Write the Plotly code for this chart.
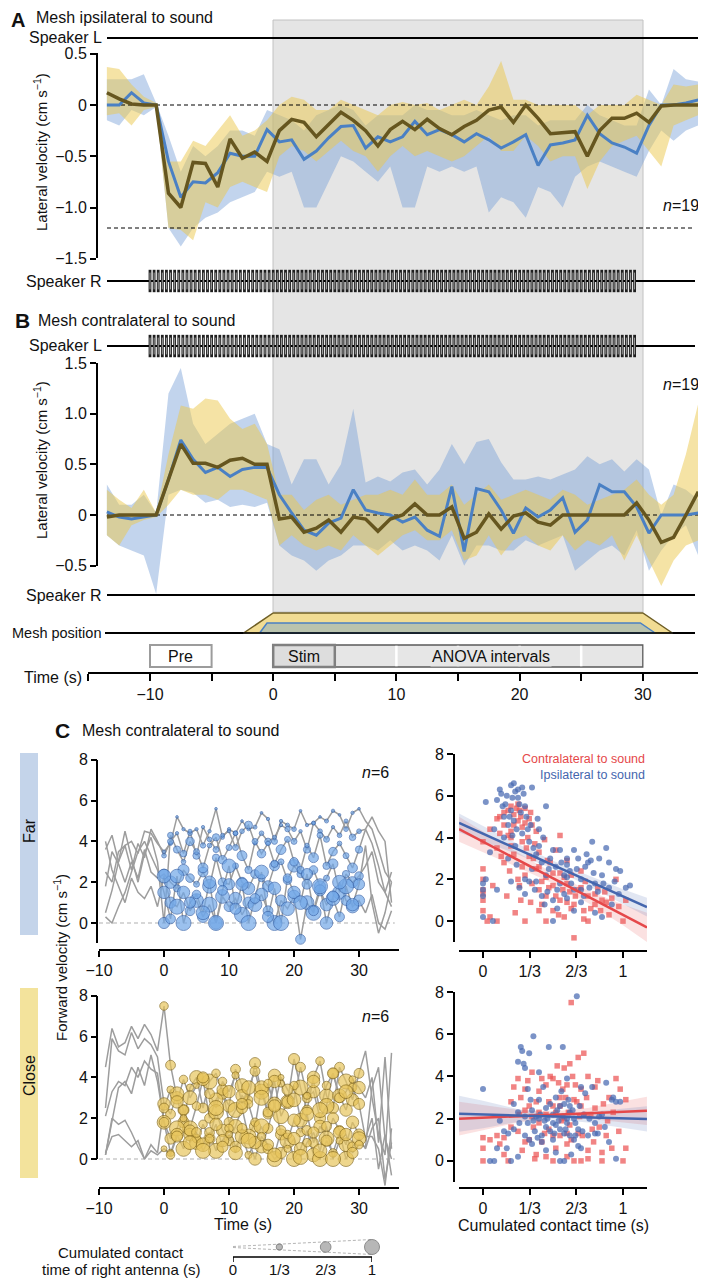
import plotly.graph_objects as go

# The page body has an 8 px margin, so the figure is drawn 8 px in from the
# window's top-left corner; all positions below are window pixels.
OFF = 8
W, H = 706 - OFF, 1278 - OFF
FONT = "Liberation Sans, Arial, Helvetica, sans-serif"


def PX(px):
    return (px - OFF) / W


def PY(py):
    return 1 - (py - OFF) / H


# ------------------------------------------------------------------ data A/B
t_ab = [i + 0.5 for i in range(-14, 35)]  # 1-s bins, -13.5 .. 34.5

ipsi_close_mean = [0.12, 0.06, 0.01, 0.0, 0.0, -0.86, -1.0, -0.56, -0.57, -0.80,
                   -0.33, -0.52, -0.46, -0.55, -0.25, -0.14, -0.17, -0.31, -0.19, -0.07,
                   -0.15, -0.25, -0.40, -0.24, -0.16, -0.24, -0.14, -0.23, -0.29, -0.21,
                   -0.15, -0.05, -0.02, -0.17, 0.0, -0.13, -0.28, -0.27, -0.26, -0.50,
                   -0.25, -0.13, -0.13, -0.08, -0.17, -0.01, 0.0, 0.0, 0.0]
ipsi_close_hi = [0.37, 0.35, 0.2, 0.08, 0.02, -0.55, -0.55, -0.35, -0.4, -0.25,
                 -0.1, -0.3, -0.25, -0.15, 0.0, 0.08, 0.05, -0.05, -0.05, 0.05,
                 0.0, -0.05, -0.1, 0.0, 0.03, 0.0, 0.02, -0.05, 0.0, 0.05,
                 0.0, 0.18, 0.43, 0.05, 0.05, 0.0, 0.0, 0.0, 0.0, -0.1,
                 0.0, 0.0, 0.0, 0.1, 0.05, 0.0, 0.2, 0.18, 0.2]
ipsi_close_lo = [-0.1, -0.08, -0.2, -0.05, -0.02, -1.2, -1.22, -1.32, -0.95, -1.0,
                 -0.8, -0.75, -0.8, -0.85, -0.5, -0.4, -0.45, -0.55, -0.45, -0.35,
                 -0.45, -0.5, -0.65, -0.5, -0.4, -0.5, -0.45, -0.5, -0.55, -0.5,
                 -0.4, -0.3, -0.45, -0.45, -0.3, -0.4, -0.55, -0.5, -0.5, -0.82,
                 -0.55, -0.4, -0.35, -0.3, -0.45, -0.6, -0.2, -0.15, -0.1]
ipsi_far_mean = [0.0, 0.0, 0.12, 0.02, 0.0, -0.55, -0.90, -0.75, -0.76, -0.66,
                 -0.47, -0.50, -0.50, -0.24, -0.36, -0.34, -0.53, -0.45, -0.32, -0.21,
                 -0.20, -0.42, -0.31, -0.36, -0.31, -0.16, -0.29, -0.24, -0.29, -0.36,
                 -0.28, -0.34, -0.42, -0.36, -0.29, -0.59, -0.39, -0.37, -0.34, -0.10,
                 -0.28, -0.37, -0.41, -0.47, -0.20, 0.0, 0.0, 0.02, 0.05]
ipsi_far_hi = [0.25, 0.25, 0.25, 0.3, 0.02, -0.3, -0.65, -0.4, -0.5, -0.4,
               -0.25, -0.25, -0.3, -0.05, -0.1, -0.15, -0.25, -0.1, -0.05, 0.0,
               -0.05, -0.2, -0.1, -0.1, -0.1, 0.0, -0.05, -0.05, -0.1, -0.1,
               -0.05, -0.1, -0.15, -0.1, -0.1, -0.2, -0.15, -0.15, -0.15, 0.0,
               -0.1, -0.15, -0.2, -0.2, 0.15, 0.0, 0.35, 0.25, 0.23]
ipsi_far_lo = [-0.15, -0.2, -0.05, -0.1, -0.02, -1.2, -1.38, -1.2, -1.1, -1.05,
               -0.95, -0.9, -0.85, -0.65, -0.7, -0.65, -1.0, -1.0, -0.75, -0.5,
               -0.55, -0.65, -0.75, -0.6, -1.0, -1.0, -0.6, -0.65, -0.6, -0.65,
               -0.6, -1.05, -0.9, -0.95, -1.1, -0.8, -0.85, -1.0, -0.7, -0.6,
               -0.55, -0.6, -0.65, -0.7, -0.45, -0.25, -0.35, -0.25, -0.2]

contra_close_mean = [-0.02, 0.0, 0.0, 0.0, 0.0, 0.35, 0.70, 0.51, 0.51, 0.47,
                     0.54, 0.56, 0.50, 0.50, -0.04, -0.02, -0.17, -0.13, -0.05, -0.17,
                     -0.02, -0.04, -0.16, -0.04, 0.0, 0.11, 0.0, 0.0, 0.08, -0.23,
                     -0.17, 0.01, -0.14, -0.01, 0.02, -0.07, -0.10, 0.0, 0.0, 0.0,
                     0.0, 0.0, 0.0, 0.12, -0.05, -0.27, -0.22, 0.0, 0.23]
contra_close_hi = [0.25, 0.15, 0.07, 0.25, 0.02, 0.6, 1.08, 1.05, 1.15, 1.13,
                   0.95, 0.85, 0.9, 0.7, 0.2, 0.2, 0.05, 0.15, 0.2, 0.1,
                   0.15, 0.2, 0.2, 0.25, 0.2, 0.35, 0.2, 0.2, 0.3, 0.1,
                   0.2, 0.3, 0.15, 0.2, 0.25, 0.2, 0.15, 0.25, 0.2, 0.1,
                   0.15, 0.2, 0.25, 0.35, 0.2, 0.1, 0.2, 0.6, 1.1]
contra_close_lo = [-0.2, -0.3, -0.1, -0.05, -0.02, 0.1, 0.25, 0.2, 0.2, 0.15,
                   0.25, 0.25, 0.2, 0.15, -0.3, -0.2, -0.3, -0.35, -0.3, -0.35,
                   -0.2, -0.3, -0.4, -0.3, -0.2, -0.15, -0.25, -0.25, -0.15, -0.45,
                   -0.4, -0.2, -0.4, -0.25, -0.2, -0.3, -0.35, -0.2, -0.35, -0.25,
                   -0.3, -0.2, -0.45, -0.2, -0.45, -0.7, -0.45, -0.3, -0.25]
contra_far_mean = [0.03, -0.02, -0.04, -0.02, 0.0, 0.35, 0.74, 0.55, 0.42, 0.47,
                   0.38, 0.45, 0.47, 0.47, 0.20, 0.02, -0.15, -0.20, -0.08, -0.03,
                   0.25, 0.05, 0.02, 0.0, -0.07, -0.02, -0.15, -0.21, 0.28, -0.36,
                   0.26, 0.23, 0.05, -0.18, 0.07, -0.02, 0.05, 0.17, -0.17, -0.05,
                   0.30, 0.23, 0.23, 0.08, -0.18, 0.0, 0.0, 0.0, 0.02]
contra_far_hi = [0.3, 0.1, 0.1, 0.2, 0.02, 1.2, 1.45, 0.9, 0.7, 0.8,
                 0.9, 0.95, 1.0, 0.7, 0.65, 0.3, 0.55, 0.55, 0.3, 0.5,
                 1.05, 0.32, 0.38, 0.33, 0.42, 0.45, 0.3, 0.45, 0.7, 0.5,
                 0.72, 0.75, 0.52, 0.35, 0.35, 0.38, 0.35, 0.4, 0.45, 0.58,
                 0.5, 0.55, 0.43, 0.55, 0.45, 0.0, 0.3, 0.25, 0.15]
contra_far_lo = [-0.2, -0.3, -0.35, -0.4, -0.78, 0.2, 0.25, 0.22, 0.12, 0.15,
                 0.08, 0.1, 0.08, 0.12, -0.3, -0.4, -0.45, -0.55, -0.45, -0.4,
                 -0.3, -0.3, -0.35, -0.25, -0.35, -0.3, -0.35, -0.45, -0.2, -0.5,
                 -0.3, -0.3, -0.35, -0.35, -0.25, -0.3, -0.25, -0.2, -0.55, -0.45,
                 -0.35, -0.3, -0.4, -0.15, -0.55, -0.35, -0.2, -0.1, -0.4]

# stimulus schematic (s)
pulse_start, pulse_end, pulse_rate = -10.0, 29.9, 3.0
mesh_close_x = [-2.4, 0.0, 30.0, 32.4]
mesh_far_x = [-1.1, -0.5, 29.8, 31.0]
pre_interval = [-10, -5]
stim_interval = [0, 5]
anova_interval = [0, 30]
anova_breaks = [10, 15, 20, 25]
time_major = [-10, 0, 10, 20, 30]
time_major_text = ['−10', '0', '10', '20', '30']
time_minor = [-15, -5, 5, 15, 25, 35]

# ------------------------------------------------------------------ data C (left)
track_t = list(range(-9, 36))
stim_t = list(range(0, 31))

far_velocity = [
    [3.6, 4.3, 3.0, 3.8, 4.0, 3.4, 4.5, 4.4, 3.9,
     3.5, 3.9, 5.2, 4.6, 4.4, 4.6, 3.8, 4.5, 5.6, 4.2,
     4.6, 4.4, 5.0, 4.6, 4.7, 5.4, 5.1, 4.0, 5.0, 4.8,
     4.6, 5.5, 4.8, 4.9, 5.2, 5.0, 5.5, 5.3, 4.6, 5.4,
     5.6, 5.0, 4.6, 3.6, 2.5, 2.0],
    [2.5, 2.0, 3.5, 3.8, 2.6, 3.9, 3.2, 4.6, 4.0,
     3.3, 4.0, 4.4, 3.4, 4.5, 3.3, 4.7, 4.1, 3.6, 4.3,
     4.5, 3.7, 4.5, 4.8, 3.9, 4.4, 4.0, 4.2, 4.8, 4.6,
     4.0, 4.5, 3.6, 4.9, 4.5, 4.1, 4.7, 4.3, 5.0, 4.2,
     4.5, 4.6, 5.2, 4.5, 4.0, 1.0],
    [1.8, 3.5, 2.9, 2.0, 3.0, 2.2, 3.6, 2.5, 2.2,
     2.4, 2.0, 1.7, 2.6, 2.2, 1.9, 2.5, 1.8, 3.2, 2.0,
     1.9, 2.8, 2.0, 1.7, 2.4, 2.2, 1.8, 2.8, 3.0, 2.1,
     2.8, 2.4, 1.9, 2.6, 1.8, 2.2, 2.9, 1.5, 2.4, 2.0,
     2.3, 2.8, 3.5, 2.0, 1.5, 2.5],
    [4.0, 2.6, 1.8, 1.0, 2.2, 1.5, 1.2, 1.8, 0.8,
     2.3, 1.0, 0.8, 1.5, 0.6, 1.1, 0.3, 0.9, 0.0, 1.3,
     0.8, 1.2, 0.4, 1.0, 0.9, 1.4, 0.6, 0.0, 1.1, 0.7,
     1.3, -0.8, 1.0, 0.5, 1.6, 0.9, 1.2, 0.3, 1.8, 0.8,
     1.1, 0.5, 1.4, 0.0, -0.3, 0.6],
    [0.5, 1.6, 3.0, 4.5, 3.2, 2.0, 3.4, 4.2, 3.0,
     0.0, 4.3, 3.6, 3.0, 4.0, 3.5, 2.7, 3.8, 4.2, 3.1,
     3.7, 4.4, 3.3, 2.6, 4.0, 3.4, 3.9, 2.9, 3.6, 4.1,
     3.0, 2.6, 3.8, 3.2, 4.3, 2.8, 3.5, 3.9, 3.3, 2.7,
     3.6, 4.6, 3.9, 2.8, 1.5, 0.8],
    [0.3, 0.0, 0.8, 1.5, 2.5, 3.5, 4.0, 3.3, 2.6,
     1.5, 0.2, 2.3, 0.0, 1.0, 1.4, 0.5, 2.0, 0.0, 1.6,
     2.8, 0.7, 1.9, 0.0, 1.2, 2.5, 0.3, 1.7, 0.0, 2.2,
     1.5, 1.0, 2.4, 0.6, 1.8, 0.0, 1.3, 2.0, 1.1, 0.9,
     1.9, 3.8, 1.0, -0.5, 0.5, 2.0],
]
far_contact = [
    [0.1, 0.15, 0.05, 0.1, 0.2, 0.1, 0.25, 0.1, 0.05, 0.15, 0.1, 0.2, 0.05, 0.1, 0.15, 0.05,
     0.1, 0.3, 0.1, 0.15, 0.2, 0.05, 0.1, 0.1, 0.05, 0.15, 0.1, 0.05, 0.2, 0.1, 0.05],
    [0.2, 0.3, 0.1, 0.35, 0.15, 0.4, 0.1, 0.2, 0.3, 0.15, 0.1, 0.3, 0.2, 0.45, 0.1, 0.2,
     0.35, 0.15, 0.1, 0.25, 0.3, 0.1, 0.4, 0.15, 0.2, 0.3, 0.1, 0.2, 0.15, 0.35, 0.2],
    [0.6, 0.8, 0.4, 0.7, 0.5, 0.3, 0.6, 0.9, 0.4, 0.5, 0.7, 0.3, 0.6, 0.8, 0.5, 0.4,
     0.7, 0.6, 0.3, 0.5, 0.8, 0.4, 0.6, 0.5, 0.7, 0.3, 0.6, 0.9, 0.4, 0.7, 0.5],
    [0.9, 0.7, 1.0, 0.8, 0.6, 0.9, 0.7, 1.0, 0.8, 0.9, 0.6, 0.8, 1.0, 0.7, 0.9, 0.8,
     0.6, 1.0, 0.7, 0.9, 0.8, 0.6, 0.9, 1.0, 0.7, 0.8, 0.9, 0.6, 1.0, 0.8, 0.7],
    [0.7, 0.3, 0.4, 0.2, 0.5, 0.3, 0.6, 0.2, 0.4, 0.5, 0.3, 0.2, 0.6, 0.4, 0.3, 0.5,
     0.2, 0.4, 0.6, 0.3, 0.5, 0.4, 0.2, 0.6, 0.3, 0.4, 0.5, 0.2, 0.3, 0.6, 0.4],
    [0.8, 0.6, 0.9, 1.0, 0.7, 0.5, 0.9, 0.8, 1.0, 0.6, 0.9, 0.7, 0.8, 1.0, 0.6, 0.9,
     0.7, 0.8, 1.0, 0.5, 0.8, 0.9, 0.7, 0.6, 1.0, 0.8, 0.7, 0.9, 0.6, 0.8, 0.7],
]
close_velocity = [
    [4.5, 6.4, 5.5, 5.7, 6.5, 5.9, 6.6, 6.1, 5.3,
     7.5, 4.6, 3.0, 1.8, 3.5, 4.0, 2.5, 3.8, 4.2, 3.2,
     2.6, 4.4, 3.6, 2.9, 4.7, 3.3, 2.2, 4.1, 3.7, 2.8,
     4.9, 3.5, 2.4, 4.0, 4.8, 3.1, 2.5, 4.5, 3.8, 2.9,
     4.2, 5.3, 3.0, 1.2, 0.2, 5.2],
    [2.5, 5.9, 5.3, 5.1, 6.2, 5.4, 5.9, 5.6, 5.0,
     2.7, 2.2, 3.2, 2.4, 1.5, 2.6, 3.9, 2.0, 2.9, 3.4,
     1.8, 2.4, 3.1, 2.7, 1.6, 3.5, 2.3, 3.8, 2.1, 2.8,
     3.6, 1.9, 3.0, 3.3, 2.0, 2.6, 4.2, 3.1, 2.4, 3.5,
     2.7, 1.0, 2.0, -0.5, 1.2, -0.8],
    [2.1, 3.3, 3.8, 3.6, 4.5, 4.0, 4.8, 4.4, 4.2,
     1.8, 1.0, 1.5, 2.4, 1.2, 0.8, 1.7, 1.0, 2.3, 1.4,
     0.9, 1.6, 2.5, 1.1, 1.8, 0.6, 1.5, 2.7, 1.2, 0.9,
     1.9, 1.3, 2.2, 0.8, 1.6, 1.0, 2.0, 1.4, 0.7, 1.8,
     1.2, 1.1, 1.1, 0.5, -1.3, 1.5],
    [0.2, 1.8, 3.5, 3.8, 3.2, 4.5, 3.6, 5.1, 3.8,
     1.8, 0.3, 1.2, 0.5, 1.4, 1.0, 0.7, 1.3, 0.4, 0.9,
     1.5, 0.6, 1.1, 0.2, 0.8, 1.6, 0.5, 0.0, 0.3, 1.2,
     0.0, 0.5, 1.4, 0.2, 0.0, 0.9, 0.3, 1.3, 0.0, 0.6,
     1.0, 0.5, 1.5, 2.0, -1.0, 0.8],
    [0.3, 1.1, 1.2, 0.9, 0.6, 0.9, 0.0, 0.4, 0.2,
     0.5, 0.2, 1.1, 2.0, 0.8, 1.3, 0.4, 1.0, 1.7, 0.6,
     1.2, 0.3, 1.5, 0.9, 0.0, 1.1, 0.7, 0.2, 1.4, 0.5,
     1.0, 0.1, 0.8, 1.3, 0.4, 1.6, 0.0, 0.9, 1.2, 0.3,
     0.7, 0.6, 3.5, 4.5, 1.0, 0.0],
    [0.2, 2.0, 1.7, 1.9, 1.3, 0.6, 0.0, 0.7, 0.3,
     2.5, 3.4, 2.8, 3.9, 3.0, 3.6, 4.0, 3.2, 2.5, 3.8,
     3.3, 4.1, 2.7, 3.5, 4.3, 3.0, 3.7, 2.6, 4.0, 3.4,
     2.9, 4.5, 3.1, 3.8, 2.4, 3.6, 4.2, 3.0, 3.3, 3.9,
     3.5, 3.0, 4.0, 0.8, 5.0, 0.5],
]
close_contact = [
    [0.5, 0.6, 0.8, 0.7, 0.4, 0.9, 0.6, 1.0, 0.5, 0.7, 0.8, 0.6, 0.9, 0.5, 0.7, 1.0,
     0.6, 0.8, 0.4, 0.9, 0.7, 1.0, 0.6, 0.8, 0.5, 0.9, 0.7, 0.6, 1.0, 0.8, 0.6],
    [0.8, 0.6, 0.9, 0.7, 1.0, 0.5, 0.8, 0.6, 0.9, 0.7, 0.6, 1.0, 0.8, 0.5, 0.7, 0.9,
     0.6, 0.8, 1.0, 0.7, 0.5, 0.9, 0.6, 0.8, 0.7, 1.0, 0.6, 0.9, 0.8, 0.5, 0.7],
    [0.9, 0.7, 1.0, 0.6, 0.8, 0.9, 0.5, 0.7, 1.0, 0.8, 0.6, 0.9, 0.7, 1.0, 0.5, 0.8,
     0.6, 0.9, 0.7, 1.0, 0.8, 0.5, 0.9, 0.6, 0.8, 1.0, 0.7, 0.6, 0.9, 0.8, 0.7],
    [0.6, 0.4, 0.8, 1.0, 0.7, 0.5, 0.9, 0.6, 1.0, 0.8, 0.5, 0.7, 0.9, 0.4, 0.8, 1.0,
     0.6, 1.0, 0.7, 0.5, 1.0, 0.8, 0.6, 0.9, 1.0, 0.7, 0.5, 0.8, 1.0, 0.6, 0.9],
    [0.3, 0.5, 0.7, 0.4, 0.9, 0.6, 1.0, 0.5, 0.8, 0.7, 0.4, 0.9, 0.6, 1.0, 0.8, 0.5,
     0.7, 0.9, 0.6, 0.4, 0.8, 1.0, 0.5, 0.7, 0.9, 0.6, 1.0, 0.4, 0.8, 0.7, 0.5],
    [0.6, 0.4, 0.8, 0.5, 0.9, 0.3, 0.7, 0.6, 1.0, 0.5, 0.8, 0.4, 0.7, 0.9, 0.6, 1.0,
     0.5, 0.8, 0.3, 0.7, 0.9, 0.6, 0.4, 0.8, 1.0, 0.5, 0.7, 0.6, 0.9, 0.4, 0.8],
]
legend_contact = [1 / 3, 2 / 3, 1.0]
legend_ticks = [0, 1 / 3, 2 / 3, 1]
legend_ticktext = ['0', '1/3', '2/3', '1']

# ------------------------------------------------------------------ data C (right)
far_contra = [(0.0, 1.5), (0.0, 2.0), (0.0, 1.0), (0.0, 0.5), (0.0, 3.8), (0.05, 4.4), (0.1, 4.9),
              (0.1, 3.5), (0.12, 5.0), (0.15, 4.6), (0.15, 2.8), (0.18, 5.3), (0.2, 5.5), (0.2, 4.3),
              (0.22, 3.2), (0.22, 5.1), (0.25, 5.6), (0.25, 4.8), (0.25, 2.0), (0.28, 4.5), (0.28, 3.8),
              (0.3, 5.4), (0.3, 2.2), (0.32, 4.0), (0.33, 3.1), (0.35, 1.8), (0.35, 4.6), (0.38, 2.5),
              (0.4, 1.5), (0.4, 3.3), (0.42, 0.8), (0.45, 2.1), (0.45, 1.2), (0.48, 2.8), (0.5, 0.5),
              (0.5, 1.7), (0.52, 3.4), (0.55, 2.3), (0.55, 1.0), (0.58, 0.2), (0.6, 1.8), (0.6, 2.9),
              (0.62, 1.4), (0.65, -0.8), (0.65, 0.8), (0.68, 1.5), (0.7, 2.4), (0.72, 0.5), (0.75, 1.2),
              (0.75, 0.0), (0.8, 0.8), (0.82, 1.6), (0.85, 1.0), (0.9, 0.3), (0.95, 2.0), (1.0, 0.0),
              (0.3, 0.0), (0.1, 0.0), (0.05, 0.2), (0.45, 0.0), (0.72, 0.1), (0.27, 1.0), (0.17, 1.2),
              (0.37, 3.7), (0.55, 4.1), (0.4, 2.6), (0.58, 2.1), (0.2, 4.0), (0.26, 5.3), (0.12, 4.2),
              (0.33, 4.9), (0.47, 1.6), (0.63, 0.6), (0.07, 1.7), (0.88, 0.9),
              (0.15, 5.2), (0.18, 4.1), (0.2, 3.6), (0.22, 4.6), (0.24, 5.4), (0.27, 5.0), (0.28, 2.6),
              (0.3, 4.7), (0.31, 3.5), (0.34, 5.2), (0.36, 3.0), (0.38, 4.3), (0.4, 0.5), (0.42, 1.9),
              (0.44, 3.9), (0.46, 2.9), (0.5, 2.3), (0.52, 1.2), (0.54, 0.3), (0.57, 1.5), (0.6, 0.9),
              (0.63, 2.2), (0.66, 1.2), (0.7, 1.6), (0.73, 1.9), (0.77, 0.6), (0.8, 1.3), (0.84, 0.5),
              (0.87, 1.4), (0.92, 1.1), (0.97, 0.7), (1.02, 1.0), (0.0, 2.5), (0.0, 1.3), (0.03, 0.0),
              (0.13, 3.1), (0.19, 2.4), (0.26, 1.7), (0.34, 0.9), (0.23, 0.4)]
far_ipsi = [(0.0, 1.2), (0.0, 1.8), (0.0, 0.2), (0.02, 5.7), (0.05, 3.3), (0.08, 4.4), (0.1, 5.8),
            (0.12, 6.3), (0.13, 6.1), (0.15, 5.0), (0.15, 4.0), (0.17, 6.0), (0.18, 4.6), (0.2, 6.5),
            (0.2, 5.3), (0.22, 6.6), (0.22, 4.8), (0.23, 3.6), (0.25, 6.3), (0.25, 5.9), (0.27, 5.2),
            (0.28, 4.2), (0.3, 5.5), (0.3, 2.0), (0.32, 4.4), (0.33, 3.8), (0.35, 6.4), (0.35, 2.5),
            (0.37, 1.5), (0.38, 3.2), (0.4, 4.4), (0.42, 2.8), (0.42, 1.2), (0.45, 5.5), (0.45, 2.2),
            (0.48, 3.0), (0.5, 1.0), (0.52, 2.6), (0.55, 1.8), (0.55, 3.4), (0.58, 2.2), (0.6, 1.1),
            (0.6, 3.0), (0.62, 2.4), (0.65, 1.5), (0.65, 0.5), (0.68, 3.0), (0.7, 2.0), (0.72, 1.2),
            (0.75, 2.8), (0.78, 3.8), (0.8, 1.8), (0.8, 0.4), (0.82, 1.4), (0.85, 2.2), (0.88, 3.5),
            (0.9, 1.6), (0.92, 0.8), (0.95, 2.5), (0.98, 2.4), (1.02, 1.6), (0.07, 0.0), (0.5, 0.0),
            (0.85, 0.2), (0.26, 1.6), (0.39, 4.9), (0.18, 3.0), (0.24, 2.7), (0.33, 1.9), (0.46, 1.4),
            (0.7, 0.9), (0.6, 2.7), (0.14, 5.5), (0.29, 6.1), (0.21, 4.1), (0.74, 3.2),
            (0.16, 5.6), (0.19, 5.0), (0.21, 5.9), (0.23, 6.2), (0.24, 4.4), (0.26, 5.6), (0.28, 6.4),
            (0.31, 5.0), (0.34, 4.6), (0.36, 3.5), (0.4, 3.6), (0.43, 4.0), (0.47, 2.5), (0.5, 3.4),
            (0.53, 1.5), (0.56, 2.8), (0.6, 2.1), (0.63, 1.8), (0.67, 2.5), (0.7, 1.5), (0.73, 2.6),
            (0.76, 1.6), (0.79, 2.3), (0.83, 3.0), (0.86, 1.8), (0.9, 2.8), (0.94, 1.9), (0.97, 1.3),
            (1.05, 1.7), (0.0, 1.5), (0.02, 2.0), (0.1, 1.5), (0.2, 1.9), (0.3, 1.3), (0.38, 1.9),
            (0.44, 0.8), (0.53, 0.6), (0.58, 1.3), (0.65, 3.4), (0.77, 2.9)]
close_contra = [(0.0, 1.1), (0.0, 0.6), (0.0, 0.0), (0.1, 1.2), (0.12, 0.8), (0.15, 0.3), (0.18, 0.0),
                (0.2, 1.6), (0.22, 3.5), (0.25, 3.9), (0.25, 1.4), (0.27, 3.0), (0.28, 0.5), (0.3, 2.4),
                (0.32, 3.8), (0.33, 1.0), (0.35, 2.1), (0.35, 4.2), (0.37, 0.1), (0.38, 2.8), (0.4, 1.8),
                (0.4, 3.3), (0.42, 0.9), (0.45, 2.2), (0.45, 0.2), (0.47, 1.5), (0.5, 3.9), (0.5, 2.6),
                (0.52, 0.6), (0.53, 4.5), (0.55, 3.0), (0.55, 1.2), (0.58, 4.4), (0.58, 2.0), (0.6, 3.6),
                (0.6, 0.8), (0.62, 1.7), (0.62, 4.6), (0.63, 7.5), (0.65, 2.9), (0.65, 0.0), (0.68, 4.9),
                (0.68, 1.3), (0.7, 3.4), (0.7, 0.0), (0.72, 5.1), (0.73, 2.2), (0.75, 4.0), (0.75, 0.5),
                (0.78, 1.5), (0.8, 3.5), (0.8, 2.5), (0.82, 3.8), (0.85, 0.4), (0.88, 1.2), (0.9, 3.0),
                (0.95, 3.9), (0.98, 3.4), (1.02, 2.9), (0.92, 0.6), (1.0, 0.0), (0.3, 0.9), (0.45, 3.6),
                (0.55, 2.6), (0.67, 2.8), (0.6, 1.3), (0.48, 4.0), (0.57, 3.4), (0.64, 4.0), (0.7, 2.6),
                (0.05, 1.0), (0.15, 1.1), (0.2, 2.8), (0.26, 2.2), (0.3, 3.4), (0.33, 2.6), (0.36, 1.6),
                (0.4, 2.3), (0.42, 3.9), (0.44, 1.3), (0.47, 2.8), (0.5, 1.2), (0.52, 2.3), (0.54, 3.7),
                (0.56, 1.9), (0.59, 3.0), (0.61, 2.3), (0.63, 1.0), (0.66, 3.6), (0.69, 2.1), (0.71, 1.2),
                (0.74, 3.0), (0.77, 2.2), (0.79, 0.9), (0.83, 1.6), (0.86, 2.7), (0.89, 1.9), (0.93, 2.3),
                (0.97, 1.4), (1.02, 0.6), (0.38, 0.3), (0.5, 0.0), (0.6, 0.2), (0.75, 0.1), (0.85, 0.0)]
close_ipsi = [(0.0, 3.4), (0.05, 0.0), (0.08, 0.0), (0.1, 0.6), (0.12, 1.9), (0.15, 1.4), (0.17, 0.6),
              (0.2, 0.0), (0.22, 1.5), (0.25, 2.3), (0.25, 4.7), (0.27, 5.4), (0.28, 5.2), (0.29, 4.6),
              (0.3, 4.4), (0.3, 2.1), (0.32, 1.8), (0.33, 5.1), (0.33, 1.0), (0.35, 2.4), (0.35, 0.8),
              (0.37, 1.4), (0.38, 2.1), (0.4, 2.9), (0.4, 4.2), (0.42, 1.2), (0.42, 0.9), (0.44, 1.9),
              (0.45, 2.5), (0.47, 5.4), (0.48, 1.4), (0.5, 2.2), (0.5, 1.0), (0.52, 3.0), (0.52, 1.7),
              (0.55, 2.6), (0.55, 0.0), (0.57, 5.4), (0.58, 1.3), (0.58, 2.7), (0.6, 3.9), (0.6, 1.8),
              (0.62, 2.3), (0.63, 0.3), (0.65, 2.0), (0.65, 1.0), (0.67, 7.8), (0.68, 1.5), (0.7, 3.5),
              (0.7, 0.6), (0.72, 2.2), (0.75, 1.2), (0.78, 3.5), (0.8, 1.8), (0.82, 1.3), (0.85, 2.2),
              (0.88, 3.7), (0.9, 0.9), (0.93, 3.0), (0.95, 2.8), (0.98, 2.8), (0.95, 0.1), (0.4, 2.0),
              (0.5, 1.8), (0.6, 2.0), (0.45, 1.6), (0.55, 1.5), (0.36, 5.9), (0.62, 2.6), (0.66, 1.2),
              (0.18, 1.3), (0.22, 2.7), (0.26, 1.8), (0.3, 1.2), (0.32, 3.4), (0.34, 2.9), (0.36, 1.9),
              (0.39, 1.1), (0.41, 2.2), (0.43, 3.5), (0.46, 2.0), (0.48, 2.7), (0.51, 1.3), (0.53, 2.4),
              (0.54, 1.9), (0.56, 3.3), (0.57, 2.1), (0.59, 1.5), (0.61, 2.9), (0.62, 1.2), (0.64, 2.4),
              (0.66, 1.8), (0.69, 2.6), (0.71, 1.4), (0.73, 3.2), (0.76, 2.0), (0.8, 1.3), (0.83, 2.1),
              (0.87, 1.6), (0.92, 2.9), (0.45, 0.5), (0.52, 0.4), (0.58, 0.0), (0.68, 0.7), (0.25, 0.2)]

fit_x = [-0.171, 0.0, 0.25, 0.5, 0.75, 1.0, 1.171]
far_contra_fit = [4.40, 3.80, 2.92, 2.05, 1.17, 0.30, -0.30]
far_contra_ci = [0.6, 0.5, 0.35, 0.25, 0.3, 0.5, 0.7]
far_ipsi_fit = [4.70, 4.19, 3.44, 2.69, 1.94, 1.18, 0.67]
far_ipsi_ci = [0.45, 0.38, 0.25, 0.2, 0.25, 0.35, 0.45]
close_contra_fit = [2.00, 2.05, 2.12, 2.19, 2.25, 2.32, 2.37]
close_contra_ci = [0.8, 0.6, 0.3, 0.15, 0.25, 0.5, 0.67]
close_ipsi_fit = [2.23, 2.20, 2.15, 2.11, 2.07, 2.02, 1.99]
close_ipsi_ci = [0.85, 0.65, 0.3, 0.15, 0.25, 0.45, 0.6]

for arr in (ipsi_close_mean, ipsi_close_hi, ipsi_close_lo, ipsi_far_mean, ipsi_far_hi, ipsi_far_lo,
            contra_close_mean, contra_close_hi, contra_close_lo, contra_far_mean, contra_far_hi, contra_far_lo):
    assert len(arr) == len(t_ab), len(arr)
for arr in far_velocity + close_velocity:
    assert len(arr) == len(track_t), len(arr)
for arr in far_contact + close_contact:
    assert len(arr) == len(stim_t), len(arr)

# ------------------------------------------------------------------ styles
C_BLUE_LINE = '#4a80c4'
C_OLIVE_LINE = '#66561f'
C_BLUE_BAND = 'rgba(120,160,215,0.45)'
C_YEL_BAND = 'rgba(235,200,75,0.50)'
C_RED = '#e5484a'
C_BLU2 = '#4466ae'

T0PX, PXS = 273.2, 12.32  # time axis: window px of t=0 and px per second


def tpx(px):
    return (px - T0PX) / PXS


def size_of(c):
    return 2 + 13 * c


fig = go.Figure()


def add(tr):
    fig.add_trace(tr)


def band(x, hi, lo, color, xa, ya):
    add(go.Scatter(x=list(x) + list(x)[::-1], y=list(hi) + list(lo)[::-1], fill='toself',
                   fillcolor=color, line=dict(width=0), mode='lines', hoverinfo='skip',
                   xaxis=xa, yaxis=ya, showlegend=False))


def line(x, y, color, width, xa, ya, dash=None):
    add(go.Scatter(x=x, y=y, mode='lines', line=dict(color=color, width=width, dash=dash),
                   hoverinfo='skip', xaxis=xa, yaxis=ya, showlegend=False))


# speaker levels in A and B (axis units)
spkL_A, spkR_A = 0.654, -1.717
spkL_B, spkR_B = 1.668, -0.790
pulse_t = [pulse_start + k / pulse_rate for k in range(int((pulse_end - pulse_start) * pulse_rate))]


def pulses(level, xa, ya):
    n = len(pulse_t)
    add(go.Scatter(x=pulse_t, y=[level] * n, mode='markers',
                   marker=dict(symbol='line-ns', size=16, line=dict(width=2.8, color='#1e1e1e')),
                   xaxis=xa, yaxis=ya, hoverinfo='skip', showlegend=False))
    add(go.Scatter(x=pulse_t, y=[level] * n, mode='markers',
                   marker=dict(symbol='line-ns', size=12, line=dict(width=1.0, color='#a0a0a0')),
                   xaxis=xa, yaxis=ya, hoverinfo='skip', showlegend=False))


# ---- panel A
line([tpx(107), tpx(702)], [spkL_A, spkL_A], 'black', 2, 'x', 'y')
line([tpx(107), tpx(695)], [spkR_A, spkR_A], 'black', 2, 'x', 'y')
pulses(spkR_A, 'x', 'y')
band(t_ab, ipsi_far_hi, ipsi_far_lo, C_BLUE_BAND, 'x', 'y')
band(t_ab, ipsi_close_hi, ipsi_close_lo, C_YEL_BAND, 'x', 'y')
line([tpx(107), tpx(703)], [0, 0], 'black', 1, 'x', 'y', dash='4px,3px')
line([tpx(107), tpx(695)], [-1.2, -1.2], 'black', 1, 'x', 'y', dash='4px,3px')
line(t_ab, ipsi_far_mean, C_BLUE_LINE, 3, 'x', 'y')
line(t_ab, ipsi_close_mean, C_OLIVE_LINE, 3.5, 'x', 'y')

# ---- panel B
line([tpx(107), tpx(695)], [spkL_B, spkL_B], 'black', 2, 'x2', 'y2')
line([tpx(107), tpx(695)], [spkR_B, spkR_B], 'black', 2, 'x2', 'y2')
pulses(spkL_B, 'x2', 'y2')
band(t_ab, contra_far_hi, contra_far_lo, C_BLUE_BAND, 'x2', 'y2')
band(t_ab, contra_close_hi, contra_close_lo, C_YEL_BAND, 'x2', 'y2')
line([tpx(107), tpx(703)], [0, 0], 'black', 1, 'x2', 'y2', dash='4px,3px')
line(t_ab, contra_far_mean, C_BLUE_LINE, 3, 'x2', 'y2')
line(t_ab, contra_close_mean, C_OLIVE_LINE, 3.5, 'x2', 'y2')

# ---- mesh position + intervals (x3/y3; y3 in px above time axis)
BASE, TOP_Y, TOP_B = 39, 59, 49
line([tpx(105), mesh_close_x[0]], [BASE, BASE], 'black', 2, 'x3', 'y3')
line([mesh_close_x[3], tpx(695)], [BASE, BASE], 'black', 2, 'x3', 'y3')
add(go.Scatter(x=mesh_close_x + [mesh_close_x[0]], y=[BASE, TOP_Y, TOP_Y, BASE, BASE], fill='toself',
               fillcolor='#f1dc93', line=dict(color='#6f5f26', width=1.5), mode='lines',
               xaxis='x3', yaxis='y3', hoverinfo='skip', showlegend=False))
add(go.Scatter(x=mesh_far_x + [mesh_far_x[0]], y=[BASE, TOP_B, TOP_B, BASE, BASE], fill='toself',
               fillcolor='#b9c3ae', line=dict(color=C_BLUE_LINE, width=1.5), mode='lines',
               xaxis='x3', yaxis='y3', hoverinfo='skip', showlegend=False))
line([tpx(105), tpx(695)], [BASE, BASE], 'black', 1.5, 'x3', 'y3')

# ---- panel C left
GRAY = '#9d9d9d'
line([-10, 35.5], [0, 0], '#b0b0b0', 1.2, 'x4', 'y4', dash='4px,3px')
line([-10, 35.5], [0, 0], '#b0b0b0', 1.2, 'x5', 'y5', dash='4px,3px')
for v in far_velocity:
    line(track_t, v, GRAY, 1.5, 'x4', 'y4')
for v, c in zip(far_velocity, far_contact):
    add(go.Scatter(x=stim_t, y=v[9:40], mode='markers',
                   marker=dict(size=[size_of(k) for k in c], color='#72a8e8',
                               line=dict(color='#3a66ac', width=1)),
                   xaxis='x4', yaxis='y4', cliponaxis=False, hoverinfo='skip', showlegend=False))
for v in close_velocity:
    line(track_t, v, GRAY, 1.5, 'x5', 'y5')
for v, c in zip(close_velocity, close_contact):
    add(go.Scatter(x=stim_t, y=v[9:40], mode='markers',
                   marker=dict(size=[size_of(k) for k in c], color='#e8c55c',
                               line=dict(color='#8a6e1e', width=1)),
                   xaxis='x5', yaxis='y5', cliponaxis=False, hoverinfo='skip', showlegend=False))


# ---- panel C right
def scatter_panel(contra, ipsi, cfit, cci, ifit, ici, xa, ya):
    band(fit_x, [f + c for f, c in zip(cfit, cci)], [f - c for f, c in zip(cfit, cci)],
         'rgba(232,90,90,0.18)', xa, ya)
    band(fit_x, [f + c for f, c in zip(ifit, ici)], [f - c for f, c in zip(ifit, ici)],
         'rgba(90,115,185,0.18)', xa, ya)
    add(go.Scatter(x=[p[0] for p in contra], y=[p[1] for p in contra], mode='markers',
                   marker=dict(symbol='square', size=5.5, color='rgba(236,85,85,0.72)'),
                   xaxis=xa, yaxis=ya, cliponaxis=False, hoverinfo='skip', showlegend=False))
    add(go.Scatter(x=[p[0] for p in ipsi], y=[p[1] for p in ipsi], mode='markers',
                   marker=dict(symbol='circle', size=6, color='rgba(72,105,178,0.72)'),
                   xaxis=xa, yaxis=ya, cliponaxis=False, hoverinfo='skip', showlegend=False))
    line(fit_x, cfit, C_RED, 2.5, xa, ya)
    line(fit_x, ifit, C_BLU2, 2.5, xa, ya)


scatter_panel(far_contra, far_ipsi, far_contra_fit, far_contra_ci, far_ipsi_fit, far_ipsi_ci, 'x6', 'y6')
scatter_panel(close_contra, close_ipsi, close_contra_fit, close_contra_ci, close_ipsi_fit, close_ipsi_ci,
              'x7', 'y7')

# ---- size legend (x8/y8, y in px above axis)
line([0, 1], [10.5, 17.5], '#b5b5b5', 1, 'x8', 'y8', dash='3px,2px')
line([0, 1], [9.5, 2.5], '#b5b5b5', 1, 'x8', 'y8', dash='3px,2px')
add(go.Scatter(x=legend_contact, y=[10] * 3, mode='markers',
               marker=dict(size=[size_of(k) for k in legend_contact], color='#9a9a9a',
                           line=dict(color='#5e5e5e', width=1)),
               xaxis='x8', yaxis='y8', cliponaxis=False, hoverinfo='skip', showlegend=False))
line([0, 0, 1, 1], [-5, 0, 0, -5], 'black', 1.5, 'x8', 'y8')

# ------------------------------------------------------------------ layout
tickfont = dict(family=FONT, size=16, color='#111')
ax_common = dict(showgrid=False, zeroline=False, ticks='outside', ticklen=6, tickwidth=2,
                 tickcolor='black', tickfont=tickfont, fixedrange=True, automargin=False)
hidden = dict(visible=False, automargin=False, fixedrange=True)

layout = dict(
    template='none',
    width=W, height=H, margin=dict(l=0, r=0, t=0, b=0, pad=0, autoexpand=False), autosize=False,
    paper_bgcolor='white', plot_bgcolor='rgba(0,0,0,0)', showlegend=False,
    font=dict(family=FONT, size=16, color='#111'),
    xaxis=dict(domain=[PX(97), PX(705)], range=[tpx(97), tpx(705)], anchor='y', **hidden),
    yaxis=dict(domain=[PY(300), PY(25)], range=[(105 - 300) / 102.5, (105 - 25) / 102.5], anchor='x',
               tickvals=[0.5, 0, -0.5, -1, -1.5], ticktext=['0.5', '0', '−0.5', '−1.0', '−1.5'],
               showline=False, **ax_common),
    xaxis2=dict(domain=[PX(97), PX(705)], range=[tpx(97), tpx(705)], anchor='y2', **hidden),
    yaxis2=dict(domain=[PY(608), PY(328)], range=[(515 - 608) / 101.3, (515 - 328) / 101.3], anchor='x2',
                tickvals=[1.5, 1, 0.5, 0, -0.5], ticktext=['1.5', '1.0', '0.5', '0', '−0.5'],
                showline=False, **ax_common),
    xaxis3=dict(domain=[PX(T0PX - 15 * PXS), PX(T0PX + 35 * PXS)], range=[-15, 35], anchor='y3',
                showline=True, linewidth=2, linecolor='black', tickvals=time_major, ticktext=time_major_text,
                minor=dict(tickvals=time_minor, ticks='outside', ticklen=7, tickwidth=2, tickcolor='black',
                           showgrid=False),
                **{**ax_common, 'ticklen': 7}),
    yaxis3=dict(domain=[PY(672), PY(605)], range=[0, 67], anchor='x3', **hidden),
    xaxis4=dict(domain=[PX(99), PX(399)], range=[-10, 36.15], anchor='free', position=PY(950),
                showline=True, linewidth=2, linecolor='black', tickvals=[-10, 0, 10, 20, 30],
                ticktext=['−10', '0', '10', '20', '30'], **ax_common),
    yaxis4=dict(domain=[PY(946), PY(752)], range=[(923 - 946) / 20.4, (923 - 752) / 20.4], anchor='free',
                position=PX(97), showline=False, tickvals=[0, 2, 4, 6, 8], **ax_common),
    xaxis5=dict(domain=[PX(99), PX(399)], range=[-10, 36.15], anchor='free', position=PY(1188),
                showline=True, linewidth=2, linecolor='black', tickvals=[-10, 0, 10, 20, 30],
                ticktext=['−10', '0', '10', '20', '30'], **ax_common),
    yaxis5=dict(domain=[PY(1186), PY(990)], range=[(1159 - 1186) / 20.4, (1159 - 990) / 20.4], anchor='free',
                position=PX(97), showline=False, tickvals=[0, 2, 4, 6, 8], **ax_common),
    xaxis6=dict(domain=[PX(459), PX(647)], range=[-24 / 140, 164 / 140], anchor='free', position=PY(951),
                showline=True, linewidth=2, linecolor='black', tickvals=legend_ticks,
                ticktext=legend_ticktext, **ax_common),
    yaxis6=dict(domain=[PY(942), PY(754)], range=[-1, 8], anchor='free', position=PX(454),
                showline=True, linewidth=2, linecolor='black', tickvals=[0, 2, 4, 6, 8], **ax_common),
    xaxis7=dict(domain=[PX(459), PX(647)], range=[-24 / 140, 164 / 140], anchor='free', position=PY(1188),
                showline=True, linewidth=2, linecolor='black', tickvals=legend_ticks,
                ticktext=legend_ticktext, **ax_common),
    yaxis7=dict(domain=[PY(1182), PY(992)], range=[-1, 8], anchor='free', position=PX(454),
                showline=True, linewidth=2, linecolor='black', tickvals=[0, 2, 4, 6, 8], **ax_common),
    xaxis8=dict(domain=[PX(233), PX(372)], range=[0, 1], anchor='free', position=PY(1259),
                showline=False, showgrid=False, zeroline=False, ticks='', tickvals=legend_ticks,
                ticktext=legend_ticktext, tickfont=dict(family=FONT, size=15, color='#111'),
                automargin=False, fixedrange=True),
    yaxis8=dict(domain=[PY(1263), PY(1236)], range=[-6, 21], anchor='x8', **hidden),
)

shapes = []


def pshape(px0, py0, px1, py1, **kw):
    d = dict(xref='paper', yref='paper', x0=PX(px0), x1=PX(px1), y0=PY(py0), y1=PY(py1))
    d.update(kw)
    shapes.append(d)


# stimulus window
pshape(273, 612, 643, 20, type='rect', fillcolor='#e5e5e5', line=dict(color='#c2c2c2', width=1), layer='below')
# y spines (drawn manually where data overflow the spine)
for py0, py1 in [(53, 258), (363, 566), (760, 943), (996, 1159)]:
    pshape(97, py0, 97, py1, type='line', line=dict(color='black', width=2))
# Far / Close side boxes
pshape(20, 753, 38, 935, type='rect', fillcolor='#c4d4ea', line=dict(width=0), layer='below')
pshape(20, 988, 38, 1178, type='rect', fillcolor='#f3e39c', line=dict(width=0), layer='below')

# interval boxes on x3/y3
shapes.append(dict(type='rect', xref='x3', yref='y3', x0=pre_interval[0], x1=pre_interval[1], y0=5, y1=27,
                   fillcolor='white', line=dict(color='#9c9c9c', width=2)))
shapes.append(dict(type='rect', xref='x3', yref='y3', x0=anova_interval[0], x1=anova_interval[1], y0=5, y1=27,
                   fillcolor='#e6e6e6', line=dict(color='#5a5a5a', width=1.3)))
for b in anova_breaks:
    shapes.append(dict(type='line', xref='x3', yref='y3', x0=b, x1=b, y0=5.8, y1=26.2,
                       line=dict(color='white', width=2.5)))
shapes.append(dict(type='rect', xref='x3', yref='y3', x0=stim_interval[0], x1=stim_interval[1], y0=5, y1=27,
                   fillcolor='#dddddd', line=dict(color='#808080', width=2.5)))

layout['shapes'] = shapes

anns = []


def ann(text, px, py, size=16, xa='center', ya='middle', color='#111', angle=0, **kw):
    d = dict(text=text, x=PX(px), y=PY(py), xref='paper', yref='paper', showarrow=False,
             xanchor=xa, yanchor=ya, textangle=angle,
             font=dict(family=FONT, size=size, color=color))
    d.update(kw)
    anns.append(d)


ann('<b>A</b>', 10, 8, size=20, xa='left', ya='top', borderpad=0)
ann('Mesh ipsilateral to sound', 35, 8, size=16, xa='left', ya='top', borderpad=0)
ann('Speaker L', 104, 38, xa='right')
ann('Speaker R', 104, 281, xa='right')
ann('<b>B</b>', 13, 321, size=21, xa='left')
ann('Mesh contralateral to sound', 36, 321, xa='left')
ann('Speaker L', 104, 346, xa='right')
ann('Speaker R', 104, 595, xa='right')
ann('Mesh position', 102, 633, size=14.5, xa='right', borderpad=0)
ann('Time (s)', 84, 678, xa='right')
ann('Lateral velocity (cm s<sup>−1</sup>)', 40, 152, size=15, angle=-90)
ann('Lateral velocity (cm s<sup>−1</sup>)', 40, 460, size=15, angle=-90)
ann('<i>n</i>=19', 701, 205, xa='right')
ann('<i>n</i>=19', 701, 384, xa='right')
ann('<b>C</b>', 53, 730, size=21, xa='left')
ann('Mesh contralateral to sound', 80, 730, xa='left')
ann('Far', 29, 831, angle=-90)
ann('Close', 29, 1076, angle=-90)
ann('Forward velocity (cm s<sup>−1</sup>)', 60, 958, size=15, angle=-90)
ann('<i>n</i>=6', 391, 772, xa='right')
ann('<i>n</i>=6', 391, 1016, xa='right')
ann('Contralateral to sound', 647, 759, size=12.5, xa='right', color=C_RED)
ann('Ipsilateral to sound', 647, 775, size=12.5, xa='right', color=C_BLU2)
ann('Time (s)', 243, 1224)
ann('Cumulated contact time (s)', 553, 1225)
ann('Cumulated contact', 121, 1252, size=15)
ann('time of right antenna (s)', 121, 1269, size=15)

# interval labels (axis coords)
for txt, xv, bg in [('Pre', -7.5, None), ('Stim', 2.5, None), ('ANOVA intervals', 17.7, '#e6e6e6')]:
    d = dict(text=txt, x=xv, y=16, xref='x3', yref='y3', showarrow=False,
             font=dict(family=FONT, size=16, color='#111'))
    if bg:
        d['bgcolor'] = bg
    anns.append(d)

layout['annotations'] = anns
fig.update_layout(**layout)
fig.write_html("out.html")
